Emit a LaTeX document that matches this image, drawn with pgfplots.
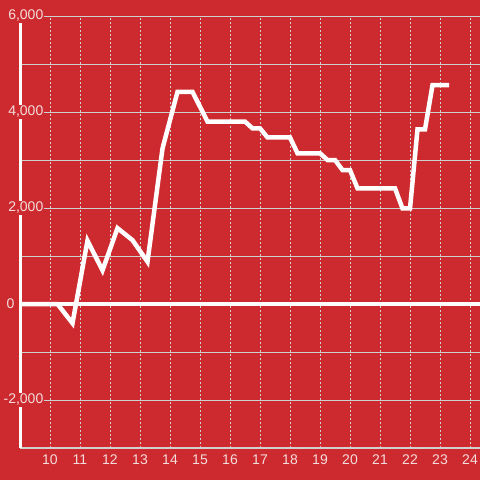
\documentclass[border=0pt]{standalone}
\usepackage{pgfplots}
\pgfplotsset{compat=1.18}
\usepackage{fontspec}
\setmainfont{Liberation Sans}
\definecolor{bgred}{RGB}{204,42,46}
\definecolor{gridc}{RGB}{208,208,208}
\definecolor{labc}{RGB}{245,220,220}

\begin{document}
\begin{tikzpicture}[x=1pt,y=1pt]
\path[use as bounding box, fill=bgred] (0,0) rectangle (480,480);
\begin{axis}[
  at={(20.5pt,32pt)}, anchor=south west,
  scale only axis, width=459.5pt, height=432pt,
  xmin=9.0167, xmax=24.333,
  ymin=-3000, ymax=6000,
  axis x line*=bottom, axis y line*=left,
  x axis line style={gridc, line width=1.4pt, -},
  y axis line style={white, line width=3pt, -},
  xtick={10,...,24},
  ytick={-2000,2000,4000,6000},
  minor ytick={-1000,1000,3000,5000},
  major tick length=0pt, minor tick length=0pt,
  xmajorgrids, ymajorgrids, yminorgrids,
  x grid style={gridc, line width=0.9pt, dash pattern=on 2pt off 2pt},
  y grid style={gridc, line width=1pt},
  scaled y ticks=false,
  /pgf/number format/assume math mode=true,
  /pgf/number format/1000 sep={,},
  ticklabel style={font=\fontsize{14}{16}\selectfont, text=labc},
  yticklabel style={anchor=east, xshift=24pt, fill=bgred, inner sep=1pt},
  xticklabel style={yshift=-3pt},
  extra y ticks={0},
  extra y tick labels={0},
  extra y tick style={
    y grid style={white, line width=3.5pt, solid},
    yticklabel style={xshift=-29pt, fill=none}
  },
]
\addplot[white, line width=4.5pt, line join=miter] coordinates {
  (9.0,0) (10.25,0) (10.75,-400) (11.25,1320) (11.75,700)
  (12.25,1580) (12.75,1330) (13.25,880) (13.75,3240) (14.25,4420)
  (14.75,4420) (15.25,3800) (16.5,3800) (16.75,3660) (17.0,3660)
  (17.25,3470) (18.0,3470) (18.25,3140) (19.0,3140) (19.25,3000)
  (19.5,3000) (19.75,2790) (20.0,2790) (20.25,2410) (21.5,2410)
  (21.75,1990) (22.0,1990) (22.25,3640) (22.5,3640) (22.75,4560)
  (23.3,4560)
};
\end{axis}
\end{tikzpicture}
\end{document}
